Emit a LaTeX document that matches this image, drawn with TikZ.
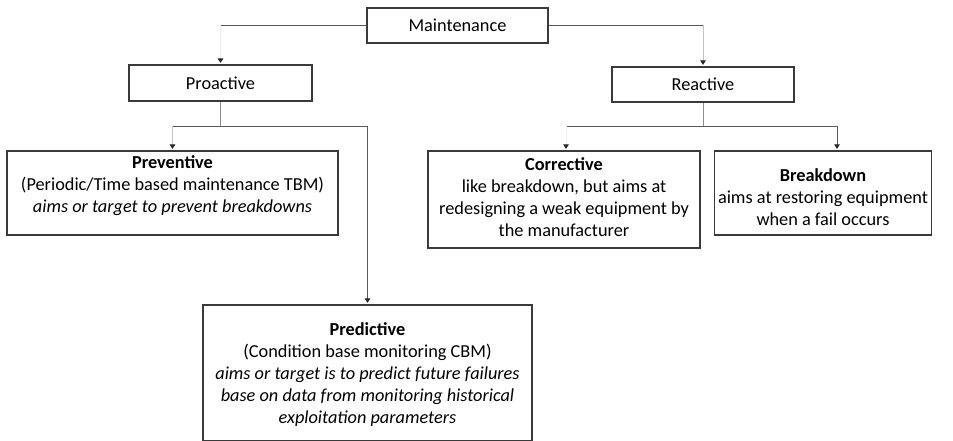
\documentclass[tikz,border=0pt]{standalone}
\usepackage{fontspec}
\setmainfont{Carlito}
\usetikzlibrary{arrows.meta}
\definecolor{boxc}{HTML}{3A3A3A}
\definecolor{hline}{HTML}{5A5A5A}
\definecolor{vdark}{HTML}{5A5A5A}
\definecolor{vmid}{HTML}{8E8E8E}
\definecolor{vlight}{HTML}{C0C0C0}
\definecolor{vfaint}{HTML}{EDEDED}
\tikzset{
  x=1pt,y=-1pt,
  box/.style={draw=boxc,line width=1.2pt,rectangle,inner sep=0pt},
  txt/.style={align=center,font=\fontsize{18.3}{22}\selectfont,inner sep=0pt},
  conn/.style={line width=0.9pt},
  arr/.style={conn,-{Triangle[width=5.5pt,length=4.5pt,color=black!85]},shorten >=1.5pt},
}
\begin{document}
\begin{tikzpicture}
\useasboundingbox (0,0) rectangle (953,441);
% boxes
\node[box,minimum width=181pt,minimum height=35pt] (maint) at (457.5,25.5) {};
\node[box,minimum width=183pt,minimum height=36pt] (proact) at (220.5,83) {};
\node[box,minimum width=182pt,minimum height=35pt] (react) at (703,84.5) {};
\node[box,minimum width=331pt,minimum height=84pt] (prev) at (172.5,193) {};
\node[box,minimum width=272pt,minimum height=97pt] (corr) at (564,199.5) {};
\node[box,minimum width=217pt,minimum height=84pt] (brk) at (823,193) {};
\node[box,minimum width=329pt,minimum height=136pt] (pred) at (367.5,373) {};
% texts
\node[txt] (tmaint) at (maint.center) {Maintenance};
\node[txt] (tproact) at (proact.center) {Proactive};
\node[txt] (treact) at (react.center) {Reactive};
\node[txt] (tprev) at (172.5,186) {\textbf{Preventive}\\(Periodic/Time based maintenance TBM)\\\textit{aims or target to prevent breakdowns}};
\node[txt] (tcorr) at (564,197) {\textbf{Corrective}\\like breakdown, but aims at\\redesigning a weak equipment by\\the manufacturer};
\node[txt] (tbrk) at (823,197) {\textbf{Breakdown}\\aims at restoring equipment\\when a fail occurs};
\node[txt] (tpred) at (367.5,375) {\textbf{Predictive}\\(Condition base monitoring CBM)\\\textit{aims or target is to predict future failures}\\\textit{base on data from monitoring historical}\\\textit{exploitation parameters}};
% junction points
\coordinate (ml) at (maint.west -| proact.north);
\coordinate (mr) at (maint.east -| react.north);
\coordinate (pj) at (proact.south |- 0,126);
\coordinate (rj) at (react.south |- 0,126);
\coordinate (pl) at (pj -| prev.north);
\coordinate (pr) at (pj -| pred.north);
\coordinate (bn) at ([xshift=14pt]brk.north);
\coordinate (cn) at ([xshift=2pt]corr.north);
\coordinate (rl) at (rj -| cn);
\coordinate (rr) at (rj -| bn);
% connectors: horizontal parts
\draw[conn,draw=hline] (maint.west) -- (ml);
\draw[conn,draw=hline] (maint.east) -- (mr);
\draw[conn,draw=hline] (pl) -- (pr);
\draw[conn,draw=hline] (rl) -- (rr);
% vertical parts
\draw[arr,draw=vfaint] (ml) -- (proact.north);
\draw[arr,draw=vlight] (mr) -- (react.north);
\draw[conn,draw=vmid] (proact.south) -- (pj);
\draw[arr,draw=vlight] (pl) -- (prev.north);
\draw[arr,draw=vdark] (pr) -- (pred.north);
\draw[conn,draw=vmid] (react.south) -- (rj);
\draw[arr,draw=vfaint] (rl) -- (cn);
\draw[arr,draw=vdark] (rr) -- (bn);
\end{tikzpicture}
\end{document}
